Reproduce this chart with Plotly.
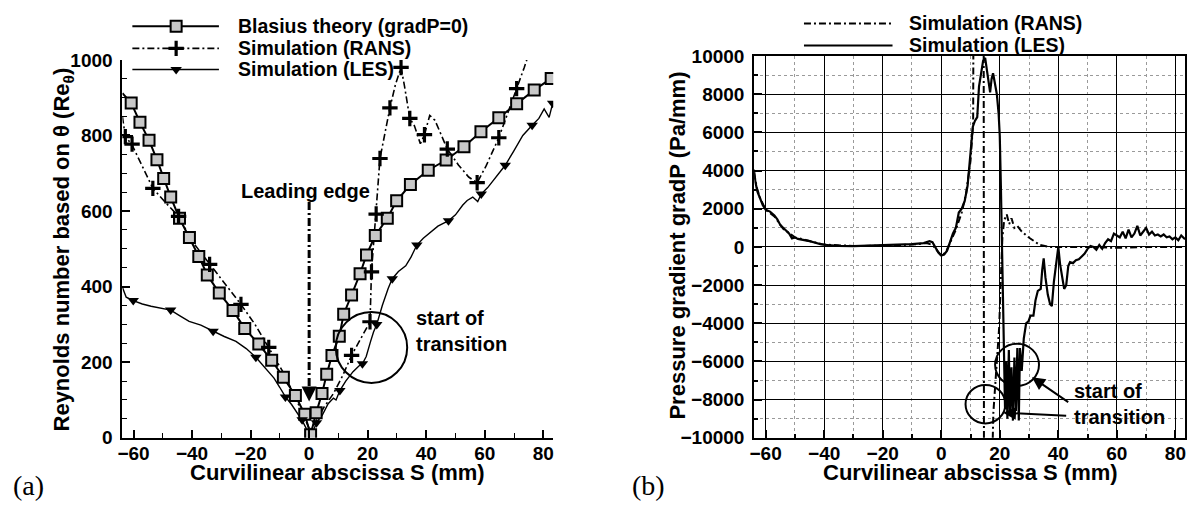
import plotly.graph_objects as go

# ---------------- (a) momentum-thickness Reynolds number ----------------
blasius_s = [-60.8, -57.8, -54.7, -52.0, -49.7, -47.3, -44.3, -40.9, -37.7, -34.8,
             -30.7, -26.0, -22.0, -17.2, -12.8, -8.8, -4.7, -1.5, 0.5, 2.4,
             4.4, 6.0, 7.8, 10.3, 11.8, 14.5, 17.4, 19.6, 22.6, 26.7,
             29.9, 34.6, 40.7, 46.8, 52.9, 58.7, 64.8, 70.9, 76.9, 82.7]
blasius_re = [886, 835, 787, 736, 686, 637, 581, 530, 480, 431,
              383, 337, 289, 248, 205, 160, 112, 62, 8, 66,
              117, 168, 218, 269, 327, 378, 434, 484, 535, 581,
              627, 670, 708, 735, 770, 810, 847, 884, 920, 951]
blasius_line_s = [-63.8] + blasius_s
blasius_line_re = [912] + blasius_re

rans_s = [-63.8, -62.8, -60.5, -57.0, -53.4, -49.0, -44.6, -40.0, -34.0, -29.0,
          -23.3, -18.5, -13.8, -9.0, -5.0, -2.0, 0.3, 2.2, 5.0, 8.3,
          11.5, 14.5, 17.5, 20.8, 21.3, 22.9, 24.2, 25.5, 27.6, 29.5,
          31.4, 32.6, 34.4, 36.0, 38.0, 39.4, 41.2, 43.0, 47.2, 51.0,
          54.5, 57.4, 60.5, 64.8, 68.0, 70.9, 73.5, 75.2]
rans_re = [850, 797, 775, 718, 660, 622, 586, 520, 459, 410,
           353, 300, 239, 175, 112, 58, 20, 42, 80, 117,
           165, 218, 262, 307, 439, 592, 739, 790, 873, 935,
           980, 930, 845, 825, 778, 802, 853, 840, 764, 722,
           690, 675, 720, 794, 860, 924, 980, 1020]
rans_mark_s = [-62.8, -60.5, -53.4, -44.6, -34.0, -23.3, -13.8, 14.5, 20.8, 21.3,
               22.9, 24.2, 27.6, 31.4, 34.4, 39.4, 47.2, 57.4, 64.8, 70.9]
rans_mark_re = [797, 777, 660, 586, 459, 353, 239, 218, 307, 439,
                592, 739, 873, 980, 845, 802, 764, 675, 794, 924]

les_s = [-63.8, -62.5, -60.1, -57.0, -54.0, -51.0, -47.3, -44.0, -41.0, -37.0,
         -32.8, -29.0, -25.0, -21.5, -18.2, -15.0, -12.0, -10.0, -8.1, -6.0,
         -4.0, -2.4, -1.0, 0.3, 1.5, 2.5, 4.5, 6.5, 8.3, 9.2,
         10.5, 12.5, 15.0, 17.0, 18.2, 19.5, 21.0, 22.0, 23.1, 25.0,
         27.0, 28.4, 30.5, 33.0, 34.8, 36.8, 39.0, 41.0, 42.3, 44.0,
         46.0, 47.6, 50.0, 52.5, 54.0, 55.9, 57.6, 58.8, 61.0, 64.0,
         67.0, 70.0, 73.0, 76.2, 78.5, 80.3, 82.0, 83.2]
les_re = [398, 372, 363, 354, 348, 344, 338, 322, 308, 298,
          282, 268, 255, 236, 213, 185, 158, 133, 108, 88,
          66, 46, 25, 8, 20, 40, 60, 90, 105, 100,
          125, 150, 175, 190, 196, 215, 255, 280, 300, 350,
          395, 421, 440, 455, 478, 510, 528, 540, 548, 560,
          568, 574, 590, 616, 628, 637, 625, 645, 662, 690,
          721, 760, 800, 827, 845, 870, 848, 885]
les_mark_s = [-60.1, -47.3, -32.8, -18.2, -8.1, -2.4, 2.5, 10.5, 18.2, 23.1,
              28.4, 36.8, 47.6, 58.8, 67.0, 76.2, 83.2]
les_mark_re = [363, 338, 282, 213, 108, 48, 40, 125, 196, 300,
               421, 510, 574, 645, 721, 827, 885]

# ---------------- (b) streamwise pressure gradient ----------------
rans_gp_s = [-64.0, -63.0, -62.0, -60.0, -57.0, -54.0, -50.0, -45.0, -40.0, -30.0,
             -20.0, -10.0, -5.0, -3.0, -1.0, 0.0, 1.5, 3.0, 5.0, 7.0,
             8.5, 10.0, 10.9, 11.0, 14.5, 14.6, 17.3, 17.8, 18.6, 19.3,
             19.8, 20.4, 20.9, 21.5, 22.4, 23.2, 24.0, 25.0, 26.0, 27.5,
             30.3, 33.7, 37.0, 40.0, 50.0, 60.0, 70.0, 83.4]
rans_gp = [3900, 3100, 2600, 1950, 1600, 950, 500, 300, 120, 50,
           60, 120, 200, 100, -300, -450, -300, 200, 900, 1800,
           2800, 4500, 6500, 12000, 12000, -12000, -12000, -8700, -7000, -5500,
           -4200, -1500, 500, 1400, 1700, 1200, 1500, 1000, 1100, 800,
           450, 100, 0, 0, 0, -50, 0, 0]

les_gp_s = [-64.0, -63.5, -62.8, -62.0, -61.0, -60.0, -58.5, -57.0, -56.0, -55.0,
            -54.0, -53.0, -52.0, -51.0, -50.0, -49.0, -47.0, -45.0, -43.0, -41.0,
            -39.0, -37.0, -35.0, -30.0, -25.0, -20.0, -15.0, -10.0, -6.0, -4.0,
            -3.0, -2.0, -1.0, 0.0, 1.0, 2.0, 3.0, 4.0, 5.0, 6.0,
            7.0, 8.0, 9.0, 10.0, 10.8, 11.5, 12.3, 12.9, 13.6, 14.3,
            15.0, 15.6, 16.2, 16.7, 17.2, 17.7, 18.3, 19.0, 19.6, 20.0,
            20.4, 20.7, 21.0, 21.4, 21.8, 22.2, 22.6, 23.1, 23.5, 24.0,
            24.5, 25.0, 25.5, 26.0, 26.5, 26.9, 27.5, 28.2, 29.0, 29.8,
            30.5, 31.5, 32.2, 33.0, 34.0, 34.5, 35.0, 35.6, 36.4, 37.2,
            37.8, 38.5, 39.2, 40.0, 40.6, 41.3, 42.0, 42.7, 43.4, 44.0,
            45.0, 46.0, 47.0, 48.0, 49.0, 50.0, 51.0, 52.0, 53.0, 54.0,
            55.0, 56.0, 57.0, 58.0, 59.0, 60.0, 61.0, 62.0, 63.0, 64.0,
            65.0, 66.0, 67.0, 68.0, 69.0, 70.0, 71.0, 72.0, 73.0, 74.0,
            75.0, 76.0, 77.0, 78.0, 79.0, 80.0, 81.0, 82.0, 83.3]
les_gp = [4050, 3400, 2900, 2600, 2200, 1950, 1850, 1650, 1450, 1150,
          1000, 850, 700, 450, 500, 420, 380, 300, 220, 130,
          100, 60, 50, 40, 60, 80, 120, 150, 200, 300,
          250, 0, -300, -450, -400, -200, 300, 700, 1000, 1800,
          2000, 2400, 3200, 5000, 6300, 6600, 6800, 8400, 9200, 9750,
          9900, 9200, 8400, 8100, 8800, 9100, 8600, 8000, 7000, 5800,
          3000, 800, -1000, -5000, -8500, -6000, -9000, -5400, -8800, -6300,
          -9100, -5800, -8600, -5300, -9100, -5300, -6500, -4800, -4000, -3900,
          -3600, -3600, -2800, -2300, -2200, -1200, -600, -1600, -2500, -3000,
          -3100, -1800, -1000, 0, -900, -1500, -2200, -2000, -1000, -800,
          -850, -700, -650, -500, -350, -100, 50, 0, -150, 100,
          -100, 200, 400, 300, 700, 600, 500, 800, 450, 900,
          500, 700, 1100, 600, 800, 1000, 650, 800, 600, 650,
          550, 650, 500, 550, 400, 500, 350, 600, 400]

legend_a = ["Blasius theory (gradP=0)", "Simulation (RANS)", "Simulation (LES)"]
legend_b = ["Simulation (RANS)", "Simulation (LES)"]

# ---------------- styling ----------------
W, H = 1195, 514
FONT = "Liberation Sans, Arial, Helvetica, sans-serif"
SERIF = "Liberation Serif, Times New Roman, serif"
DASHDOT = "7px,3px,2px,3px"
SQ_FILL = "#c8c8c8"


def px(x):
    return x / W


def py(y):
    return 1 - y / H


fig = go.Figure()

# panel (a)
fig.add_trace(go.Scatter(x=blasius_line_s, y=blasius_line_re, mode="lines",
                         line=dict(color="black", width=2), xaxis="x", yaxis="y"))
fig.add_trace(go.Scatter(x=rans_s, y=rans_re, mode="lines",
                         line=dict(color="black", width=1.6, dash=DASHDOT), xaxis="x", yaxis="y"))
fig.add_trace(go.Scatter(x=les_s, y=les_re, mode="lines",
                         line=dict(color="black", width=1.4), xaxis="x", yaxis="y"))
fig.add_trace(go.Scatter(x=blasius_s, y=blasius_re, mode="markers",
                         marker=dict(symbol="square", size=11, color=SQ_FILL,
                                     line=dict(color="black", width=2)),
                         xaxis="x", yaxis="y"))
fig.add_trace(go.Scatter(x=rans_mark_s, y=rans_mark_re, mode="markers",
                         marker=dict(symbol="cross-thin", size=11,
                                     line=dict(color="black", width=3.2)),
                         xaxis="x", yaxis="y"))
fig.add_trace(go.Scatter(x=les_mark_s, y=les_mark_re, mode="markers",
                         marker=dict(symbol="triangle-down", size=10, color="black"),
                         xaxis="x", yaxis="y"))

# panel (b)
fig.add_trace(go.Scatter(x=rans_gp_s, y=rans_gp, mode="lines",
                         line=dict(color="black", width=2, dash=DASHDOT), xaxis="x2", yaxis="y2"))
fig.add_trace(go.Scatter(x=les_gp_s, y=les_gp, mode="lines",
                         line=dict(color="black", width=2.2), xaxis="x2", yaxis="y2"))

# legend samples, drawn in pixel space on an overlay axis pair
leg_rows_a = [17, 40, 62]
leg_rows_b = [14, 37]
leg_a_x = [128, 215]
leg_b_x = [803, 892]
leg_a_mid = 172
sample_styles_a = [
    (dict(color="black", width=2), dict(symbol="square", size=11, color=SQ_FILL,
                                        line=dict(color="black", width=2))),
    (dict(color="black", width=1.6, dash=DASHDOT), dict(symbol="cross-thin", size=11,
                                                        line=dict(color="black", width=3.2))),
    (dict(color="black", width=1.6), dict(symbol="triangle-down", size=10, color="black")),
]
for row, (ln, mk) in zip(leg_rows_a, sample_styles_a):
    fig.add_trace(go.Scatter(x=leg_a_x, y=[row, row], mode="lines", line=ln,
                             xaxis="x3", yaxis="y3"))
    fig.add_trace(go.Scatter(x=[leg_a_mid], y=[row], mode="markers", marker=mk,
                             xaxis="x3", yaxis="y3"))
for row, ln in zip(leg_rows_b, [dict(color="black", width=2, dash=DASHDOT),
                                dict(color="black", width=2.2)]):
    fig.add_trace(go.Scatter(x=leg_b_x, y=[row, row], mode="lines", line=ln,
                             xaxis="x3", yaxis="y3"))

tickfont = dict(family=FONT, size=19, color="black", weight="bold")

axis_common = dict(showline=True, linecolor="black", linewidth=2, zeroline=False,
                   tickfont=tickfont, tickcolor="black", ticks="inside",
                   ticklen=8, tickwidth=1.5, tickformat="d")

fig.update_layout(
    width=W, height=H,
    margin=dict(l=0, r=0, t=0, b=0),
    paper_bgcolor="white", plot_bgcolor="rgba(0,0,0,0)",
    showlegend=False,
    xaxis=dict(domain=[px(118), px(551)], range=[-63.8, 83.4], anchor="y",
               tick0=0, dtick=20, showgrid=False,
               minor=dict(dtick=10, ticks="inside", ticklen=5, tickwidth=1.2, tickcolor="black"),
               ticklabelstandoff=-3, **axis_common),
    yaxis=dict(domain=[py(446), py(52)], range=[0, 1000], anchor="x",
               tick0=0, dtick=200, showgrid=False,
               minor=dict(dtick=50, ticks="inside", ticklen=5, tickwidth=1.2, tickcolor="black"),
               ticklabelstandoff=4, **axis_common),
    xaxis2=dict(domain=[px(753), px(1186)], range=[-63.9, 83.3], anchor="y2",
                tick0=0, dtick=20, mirror=True,
                showgrid=True, gridcolor="black", gridwidth=1.4,
                minor=dict(dtick=10, showgrid=True, griddash="dot", gridcolor="#9a9a9a",
                           gridwidth=1, ticks="inside", ticklen=4, tickcolor="black"),
                ticklabelstandoff=-3, **axis_common),
    yaxis2=dict(domain=[py(446), py(48)], range=[-10000, 10000], anchor="x2",
                tick0=0, dtick=2000, mirror=True,
                showgrid=True, gridcolor="black", gridwidth=1.4,
                minor=dict(dtick=1000, showgrid=True, griddash="dot", gridcolor="#9a9a9a",
                           gridwidth=1, ticks="inside", ticklen=4, tickcolor="black"),
                ticklabelstandoff=4, **axis_common),
    xaxis3=dict(domain=[0, 1], range=[0, W], anchor="y3", visible=False, fixedrange=True),
    yaxis3=dict(domain=[0, 1], range=[H, 0], anchor="x3", visible=False, fixedrange=True),
)

ann = []


def text(x, y, s, size, xanchor="center", yanchor="middle", angle=0, family=FONT,
         weight="bold", xref="paper", yref="paper", align="center"):
    ann.append(dict(x=x, y=y, xref=xref, yref=yref, text=s, showarrow=False,
                    xanchor=xanchor, yanchor=yanchor, textangle=angle, align=align,
                    borderpad=0,
                    font=dict(family=family, size=size, color="black", weight=weight)))


# axis titles
text(px(334), py(482), "Curvilinear abscissa S (mm)", 22)
text(px(970), py(482), "Curvilinear abscissa S (mm)", 22)
text(px(58), py(250), "Reynolds number based on θ (Re<sub>θ</sub>)", 22, angle=-90)
text(px(676), py(246), "Pressure gradient gradP (Pa/mm)", 22, angle=-90)

# panel labels
text(px(24), py(496), "(a)", 28, family=SERIF, weight="normal")
text(px(647), py(496), "(b)", 28, family=SERIF, weight="normal")

# legend texts
for row, s in zip(leg_rows_a, legend_a):
    text(px(233), py(row), s, 19.5, xanchor="left")
for row, s in zip(leg_rows_b, legend_b):
    text(px(908), py(row), s, 19.5, xanchor="left")

# panel (a) notes
text(-1.2, 652, "Leading edge", 20, xref="x", yref="y")
text(36.0, 283, "start of<br>transition", 20, xanchor="left", xref="x", yref="y",
     align="left")
ann.append(dict(x=0, y=96, ax=0, ay=135, xref="x", yref="y", axref="x", ayref="y",
                showarrow=True, arrowhead=2, arrowsize=1.2, arrowwidth=2.5,
                arrowcolor="black", text=""))

# panel (b) notes
text(45.0, -8250, "start of<br>transition", 20, xanchor="left", xref="x2", yref="y2",
     align="left")
ann.append(dict(x=31.0, y=-6830, ax=43.9, ay=-8190, xref="x2", yref="y2",
                axref="x2", ayref="y2", showarrow=True, arrowhead=2, arrowsize=1.3,
                arrowwidth=2, arrowcolor="black", text=""))
ann.append(dict(x=21.1, y=-8690, ax=43.2, ay=-8845, xref="x2", yref="y2",
                axref="x2", ayref="y2", showarrow=True, arrowhead=2, arrowsize=1.3,
                arrowwidth=2, arrowcolor="black", text=""))

fig.update_layout(annotations=ann)

shapes = [
    # leading-edge marker line
    dict(type="line", xref="x", yref="y", x0=0, x1=0, y0=624, y1=130,
         line=dict(color="black", width=3, dash="8px,3px,2px,3px")),
    # transition circles
    dict(type="circle", xref="x", yref="y", x0=9.1, x1=33.5, y0=145, y1=333,
         line=dict(color="black", width=2)),
    dict(type="circle", xref="x2", yref="y2", x0=18.4, x1=33.4, y0=-7290, y1=-5070,
         line=dict(color="black", width=2)),
    dict(type="circle", xref="x2", yref="y2", x0=8.3, x1=21.9, y0=-9250, y1=-7230,
         line=dict(color="black", width=2)),
]
fig.update_layout(shapes=shapes)

fig.write_html("out.html", post_script="document.body.style.margin='0';")
